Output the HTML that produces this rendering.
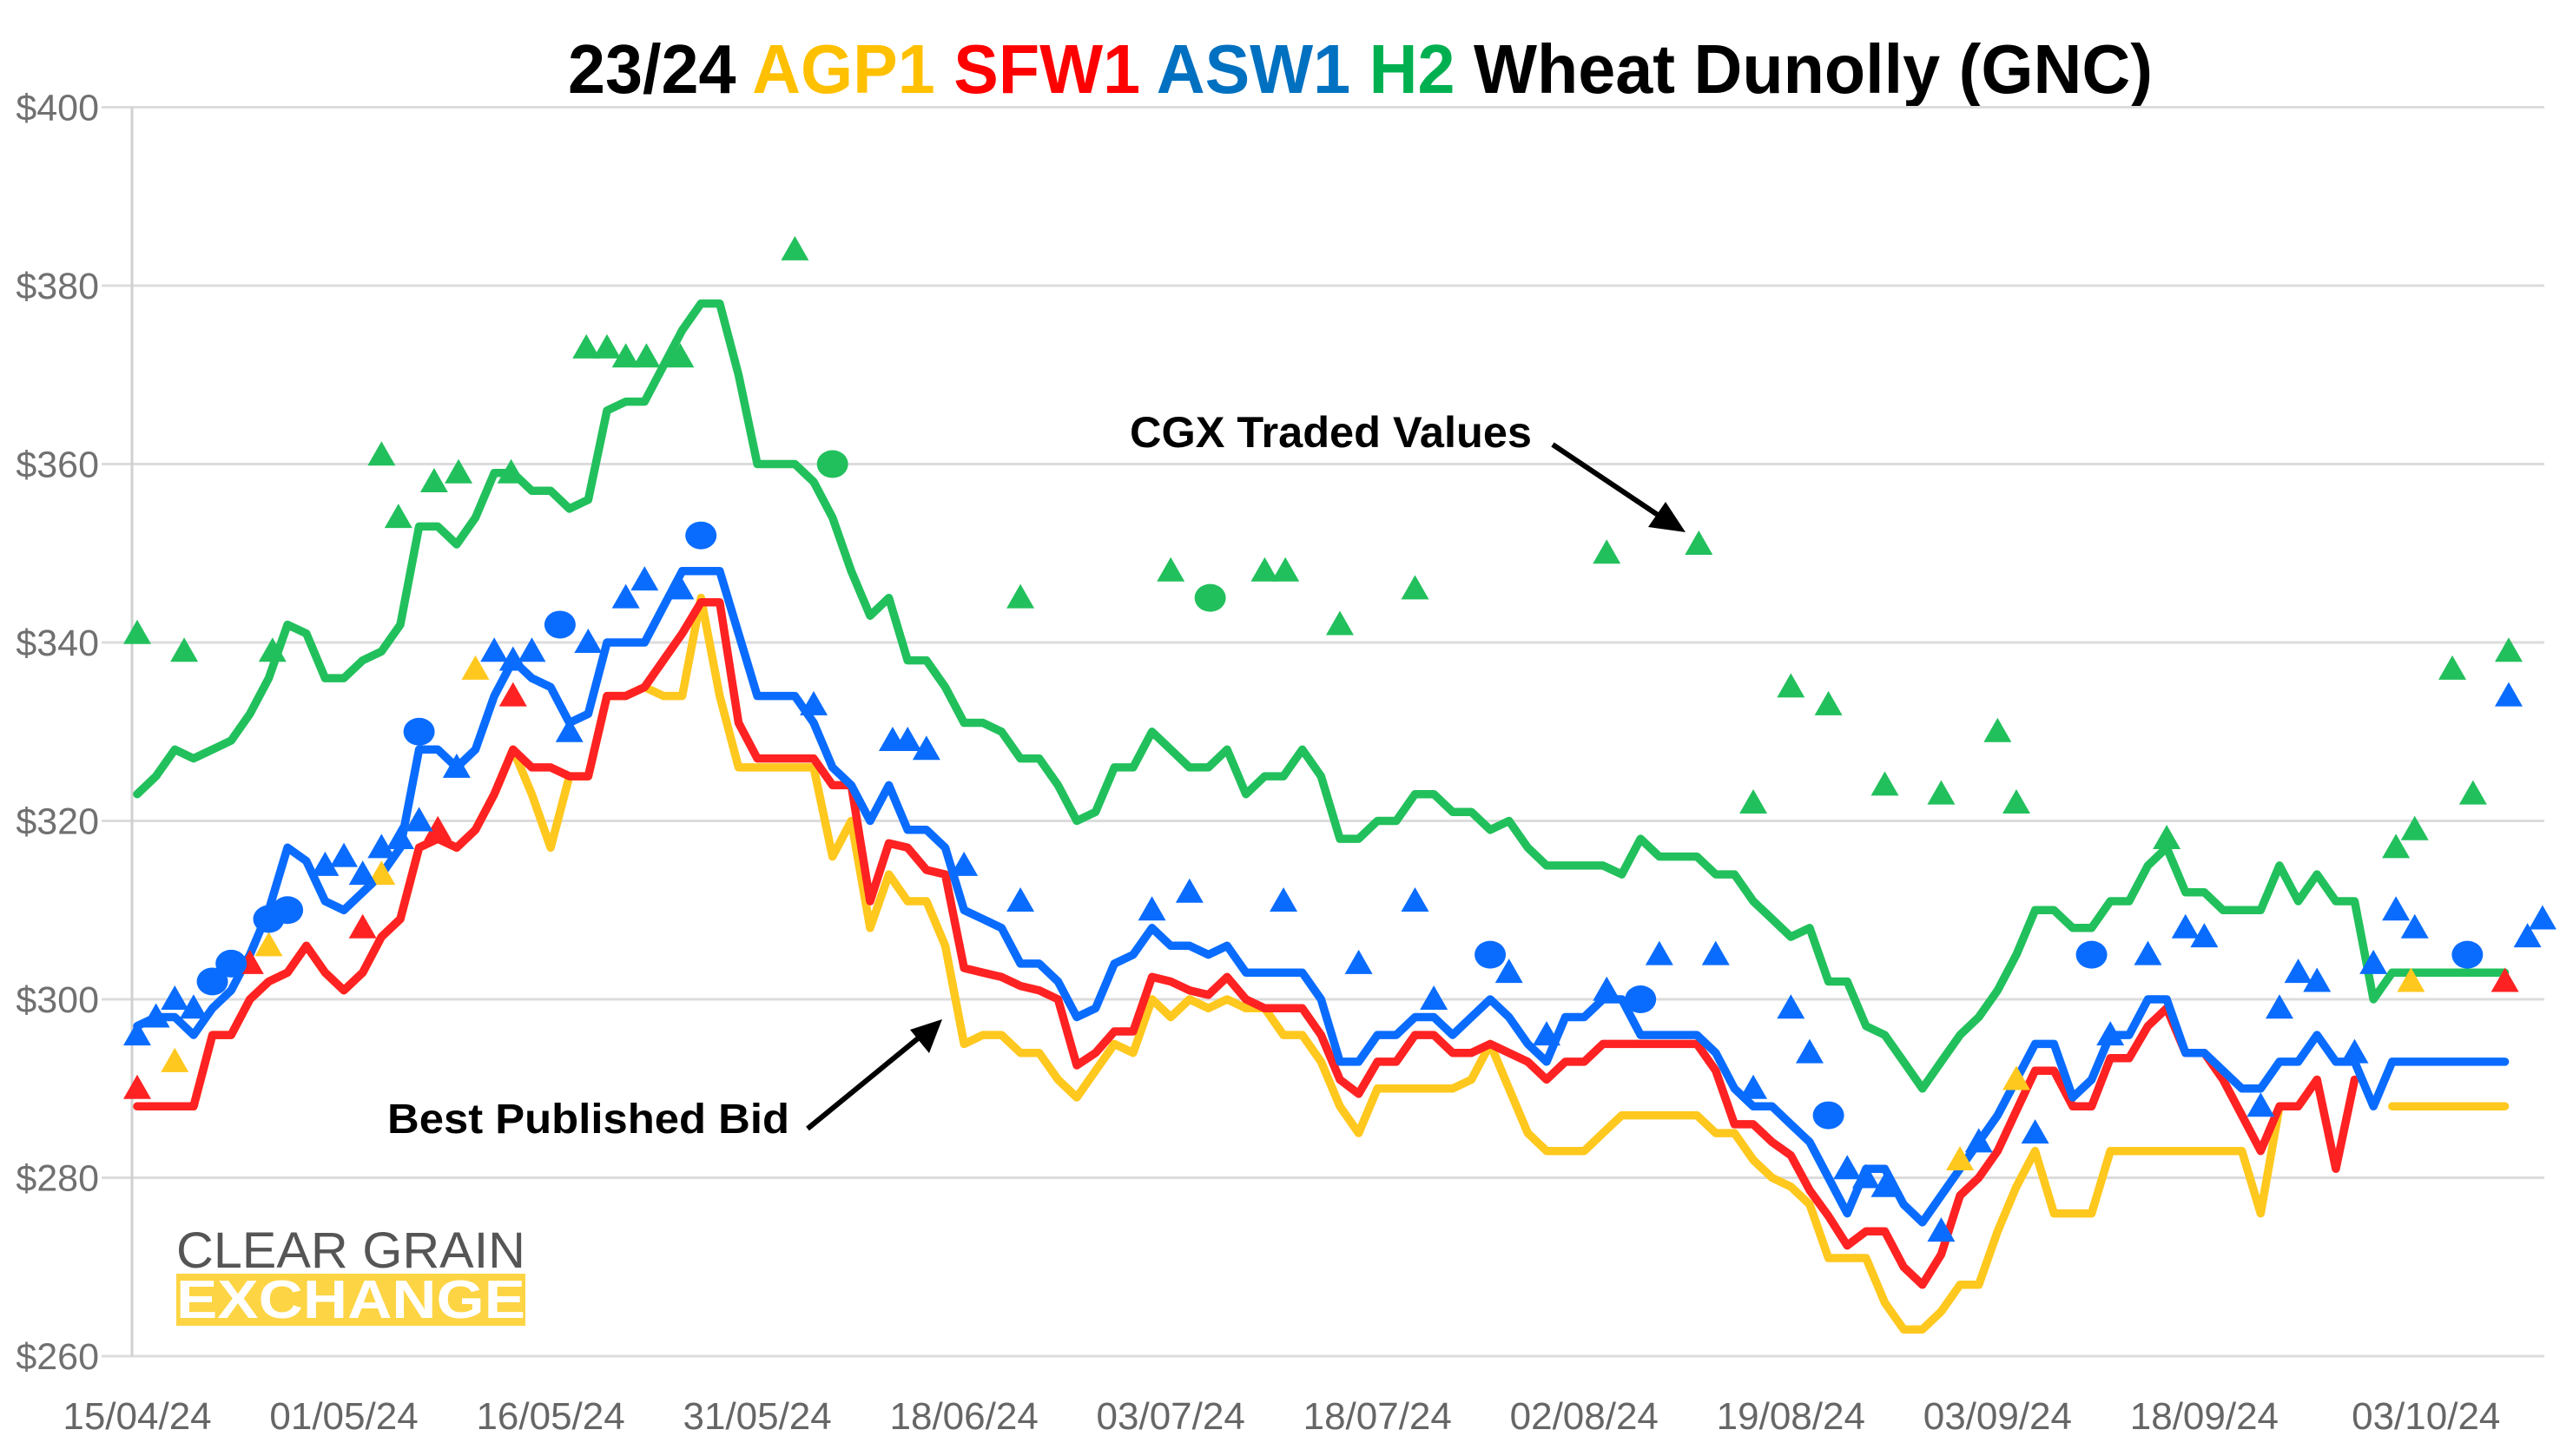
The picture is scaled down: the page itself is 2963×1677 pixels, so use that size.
<!DOCTYPE html>
<html><head><meta charset="utf-8">
<style>
html,body{margin:0;padding:0;background:#fff;}
svg{display:block;}
text{font-family:"Liberation Sans",Arial,sans-serif;}
</style></head>
<body>
<svg id="chart" width="2963" height="1677" viewBox="0 0 2963 1677" xmlns="http://www.w3.org/2000/svg">
  <rect x="0" y="0" width="2963" height="1677" fill="#fff"/>
  <text x="654" y="107" font-size="80" font-weight="bold" textLength="1825" lengthAdjust="spacingAndGlyphs"><tspan fill="#000">23/24 </tspan><tspan fill="#FFC000">AGP1 </tspan><tspan fill="#FF0000">SFW1 </tspan><tspan fill="#0070C0">ASW1 </tspan><tspan fill="#00B050">H2 </tspan><tspan fill="#000">Wheat Dunolly (GNC)</tspan></text>
  <g id="grid"></g>
  <g id="yticks"></g>
  <g id="xticks"></g>
  <g id="lines"></g>
  <g id="markers"></g>
  <g>
    <text x="203" y="1460" font-size="58" fill="#555" textLength="402" lengthAdjust="spacingAndGlyphs">CLEAR GRAIN</text>
    <rect x="203" y="1467" width="402" height="60" fill="#FDD444"/>
    <text x="203" y="1518" font-size="62" font-weight="bold" fill="#fff" textLength="402" lengthAdjust="spacingAndGlyphs">EXCHANGE</text>
  </g>
  <text x="1301" y="515" font-size="50" font-weight="bold" fill="#000" textLength="463" lengthAdjust="spacingAndGlyphs">CGX Traded Values</text>
  <g>
    <line x1="1788" y1="512" x2="1915" y2="597" stroke="#000" stroke-width="6"/>
    <polygon points="1941,613 1898,607 1918,578" fill="#000"/>
  </g>
  <text x="446" y="1305" font-size="48" font-weight="bold" fill="#000" textLength="463" lengthAdjust="spacingAndGlyphs">Best Published Bid</text>
  <g>
    <line x1="930" y1="1300" x2="1062" y2="1192" stroke="#000" stroke-width="6"/>
    <polygon points="1085,1174 1070,1213 1048,1186" fill="#000"/>
  </g>
</svg>
<script>
const yTicks=[400,380,360,340,320,300,280,260];
const yTickLabels=["$400","$380","$360","$340","$320","$300","$280","$260"];
const xLabels=["15/04/24","01/05/24","16/05/24","31/05/24","18/06/24","03/07/24","18/07/24","02/08/24","19/08/24","03/09/24","18/09/24","03/10/24"];
const xLabelIdx=[0,11,22,33,44,55,66,77,88,99,110,121.8];
const n=null;
const h2=[323,325,328,327,328,329,332,336,342,341,336,336,338,339,342,353,353,351,354,359,359,357,357,355,356,366,367,367,371,375,378,378,370,360,360,360,358,354,348,343,345,338,338,335,331,331,330,327,327,324,320,321,326,326,330,328,326,326,328,323,325,325,328,325,318,318,320,320,323,323,321,321,319,320,317,315,315,315,315,314,318,316,316,316,314,314,311,309,307,308,302,302,297,296,293,290,293,296,298,301,305,310,310,308,308,311,311,315,317,312,312,310,310,310,315,311,314,311,311,300,303,303,303,303,303,303,303];
const asw1=[297,298,298,296,299,301,305,310,317,315.5,311,310,312,314,317,328,328,326,328,334,338,336,335,331,332,340,340,340,344,348,348,348,341,334,334,334,331,326,324,320,324,319,319,317,310,309,308,304,304,302,298,299,304,305,308,306,306,305,306,303,303,303,303,300,293,293,296,296,298,298,296,298,300,298,295,293,298,298,300,300,296,296,296,296,294,290,288,288,286,284,280,276,281,281,277,275,278,281,284,287,291,295,295,289,291,296,296,300,300,294,294,292,290,290,293,293,296,293,293,288,293,293,293,293,293,293,293];
const sfw1=[288,288,288,288,296,296,300,302,303,306,303,301,303,307,309,317,318,317,319,323,328,326,326,325,325,334,334,335,338,341,344.5,344.5,331,327,327,327,327,324,324,311,317.5,317,314.5,314,303.5,303,302.5,301.5,301,300,292.6,294,296.4,296.4,302.5,302,301,300.5,302.5,300,299,299,299,296,291,289.4,293,293,296,296,294,294,295,294,293,291,293,293,295,295,295,295,295,295,292,286,286,284,282.5,278.6,275.7,272.4,274,274,270,268,271.4,278,280,283,287.5,292,292,288,288,293.4,293.4,297,299,294,294,291,287,283,288,288,291,281,291,n,n,n,n,n,n,n,n];
const agp1=[288,288,288,288,296,296,300,302,303,306,303,301,303,307,309,317,318,317,319,323,328,323,317,325,325,334,334,335,334,334,345,334,326,326,326,326,326,316,320,308,314,311,311,306,295,296,296,294,294,291,289,292,295,294,300,298,300,299,300,299,299,296,296,293,288,285,290,290,290,290,290,291,295,290,285,283,283,283,285,287,287,287,287,287,285,285,282,280,279,277,271,271,271,266,263,263,265,268,268,274,279,283,276,276,276,283,283,283,283,283,283,283,283,276,288,288,291,n,n,n,288,288,288,288,288,288,288];
const h2TriIdx=[0,2.5,7.2,13,13.9,15.8,17.1,19.9,23.9,25,26,27.1,28.9,35,47,55,60,61.1,64,68,78.2,83.1,86,88,90,93,96,99,100,108,120.2,121.2,123.2,124.3,126.2];
const h2TriVal=[341,339,339,361,354,358,359,359,373,373,372,372,372,384,345,348,348,348,342,346,350,351,322,335,333,324,323,330,322,318,317,319,337,323,339];
const h2DotIdx=[37,57.1];
const h2DotVal=[360,345];
const aswTriIdx=[0,1,2,3,10,11,12,13,14,15,17,19,20,21,23,24,26,27,28.9,36,40.2,41,42,44,47,54,56,61,65,68,69,73,75,78.2,81,84,86,88,89,91,92,93,96,98,101,105,107,109,110,113,114,115,116,118,119,120.2,121.2,126.2,127.2,128];
const aswTriVal=[296,298,300,299,315,316,314,317,318,320,326,339,338,339,330,340,345,347,346,333,329,329,328,315,311,310,312,311,304,311,300,303,296,301,305,305,290,299,294,281,280,279,274,284,285,296,305,308,307,288,299,303,302,294,304,310,308,334,307,309];
const aswDotIdx=[4,5,7,8,15,22.5,30,72,80,90,104,124];
const aswDotVal=[302,304,309,310,330,342,352,305,300,287,305,305];
const sfwTriIdx=[0,6,12,16,20,126];
const sfwTriVal=[290,304,308,319,334,302];
const agpTriIdx=[2,7,13,15,18,97,100,121];
const agpTriVal=[293,306,314,320,337,282,291,302];

const X0=158, DX=21.64, Y0=123.5, YS=10.275;
const NS="http://www.w3.org/2000/svg";
function xs(i){return X0+i*DX;}
function ys(v){return Y0+(400-v)*YS;}
function mk(tag,attrs,parent){const e=document.createElementNS(NS,tag);for(const k in attrs)e.setAttribute(k,attrs[k]);parent.appendChild(e);return e;}

const grid=document.getElementById('grid');
const yt=document.getElementById('yticks');
yTicks.forEach((v,k)=>{
  const l=mk('line',{x1:117,x2:2930,y1:ys(v),y2:ys(v),stroke:'#dcdcdc','stroke-width':3},grid);
  
  
  const t=mk('text',{x:114,y:ys(v)+15,'font-size':43,fill:'#707070','text-anchor':'end'},yt);
  t.textContent=yTickLabels[k];
  
  
});
const ax=mk('line',{x1:152,x2:152,y1:ys(400),y2:ys(260),stroke:'#d0d0d0','stroke-width':3},grid);


const xt=document.getElementById('xticks');
xLabels.forEach((s,k)=>{
  const t=mk('text',{x:xs(xLabelIdx[k]),y:1646,'font-size':44,fill:'#666','text-anchor':'middle'},xt);
  t.textContent=s;
  
  
});

const lines=document.getElementById('lines');
function drawLine(arr,color,name){
  let d='',pen=false;
  arr.forEach((v,i)=>{
    if(v===null){pen=false;return;}
    d+=(pen?'L':'M')+xs(i).toFixed(1)+' '+ys(v).toFixed(1)+' ';
    pen=true;
  });
  const p=mk('path',{d:d,fill:'none',stroke:color,'stroke-width':9.5,'stroke-linejoin':'round','stroke-linecap':'round'},lines);
  
  
}
drawLine(h2,'#22C05C','h2-line');
drawLine(agp1,'#FFC81E','agp1-line');
drawLine(sfw1,'#FF2222','sfw1-line');
drawLine(asw1,'#0A6CFF','asw1-line');

const mg=document.getElementById('markers');
function tri(idx,val,color,name){
  idx.forEach((i,k)=>{
    const x=xs(i),y=ys(val[k]);
    const p=mk('polygon',{points:`${x},${y-16} ${x-16},${y+12} ${x+16},${y+12}`,fill:color},mg);
    
    
  });
}
function dot(idx,val,color,name){
  idx.forEach((i,k)=>{
    const c=mk('ellipse',{cx:xs(i),cy:ys(val[k]),rx:18,ry:16,fill:color},mg);
    
    
  });
}
tri(h2TriIdx,h2TriVal,'#22C05C','h2-trade-triangle');
dot(h2DotIdx,h2DotVal,'#22C05C','h2-trade-dot');
tri(agpTriIdx,agpTriVal,'#FFC81E','agp1-trade-triangle');
tri(sfwTriIdx,sfwTriVal,'#FF2222','sfw1-trade-triangle');
tri(aswTriIdx,aswTriVal,'#0A6CFF','asw1-trade-triangle');
dot(aswDotIdx,aswDotVal,'#0A6CFF','asw1-trade-dot');
</script>
</body></html>
